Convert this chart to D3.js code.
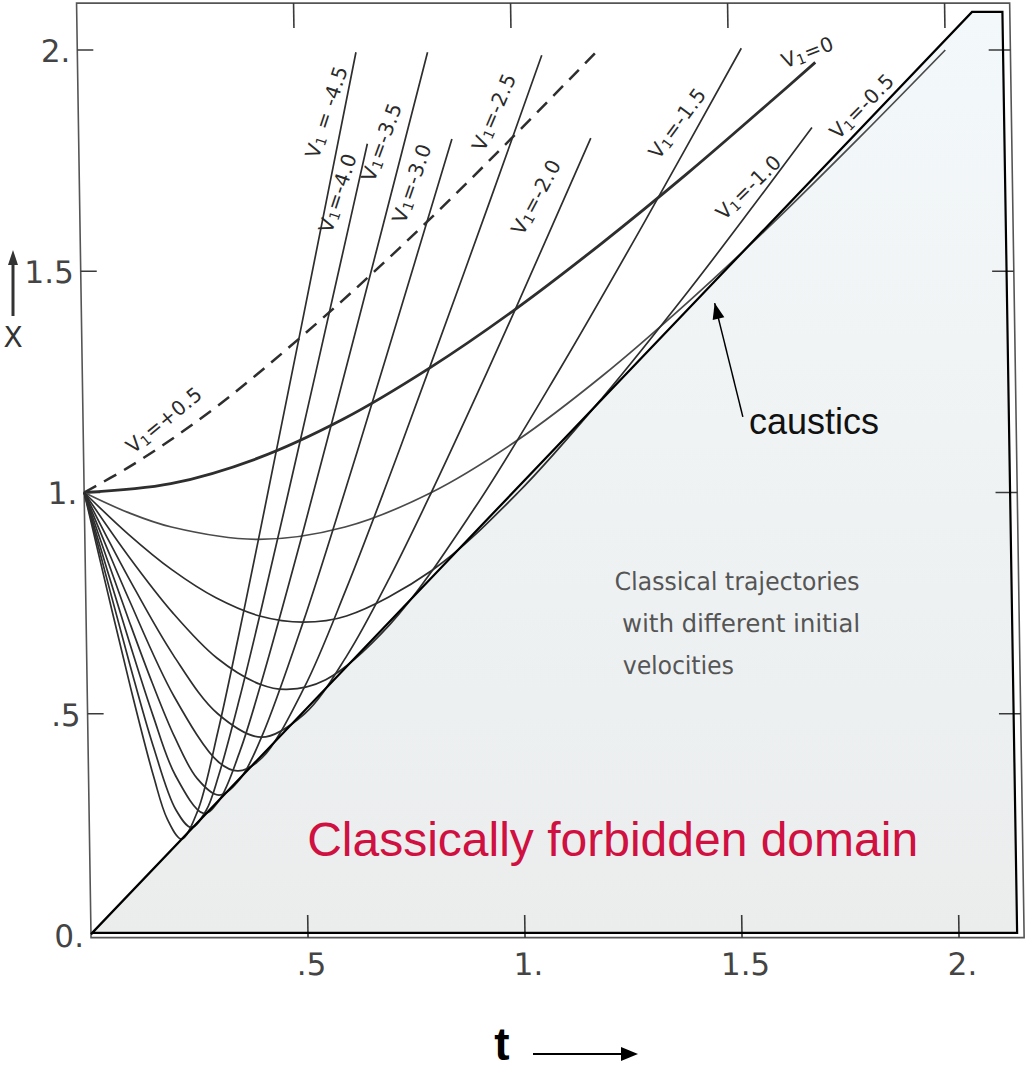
<!DOCTYPE html>
<html><head><meta charset="utf-8">
<script src="https://cdn.jsdelivr.net/npm/d3@7/dist/d3.min.js"></script>
<style>body{margin:0;background:#fff}svg{display:block}</style>
</head><body>
<svg id="c" width="1028" height="1070"></svg>
<script>
// ---------------- data ----------------
const velocityLabels = ["=+0.5", "=0", "=-0.5", "=-1.0", "=-1.5", "=-2.0", "=-2.5", "=-3.0", "=-3.5", "=-4.0", " = -4.5"];
const trajVp05 = [[0,1],[0.1,1.055],[0.2,1.118],[0.3,1.188],[0.4,1.265],[0.6,1.432],[0.8,1.612],[1.0,1.803],[1.2,2.0]];
const trajV0   = [[0,1],[0.2,1.02],[0.4,1.077],[0.6,1.166],[0.8,1.281],[1.0,1.414],[1.2,1.562],[1.4,1.72],[1.6,1.887],[1.7,1.972]];
const trajVm05 = [[0,1],[0.1,0.955],[0.2,0.922],[0.4,0.894],[0.6,0.922],[0.8,1.0],[1.0,1.118],[1.2,1.265],[1.4,1.432],[1.6,1.612],[1.8,1.803],[2.0,2.0]];
const trajVm10 = [[0,1],[0.1,0.906],[0.2,0.825],[0.3,0.762],[0.4,0.721],[0.5,0.707],[0.6,0.721],[0.8,0.825],[1.0,1.0],[1.2,1.217],[1.4,1.456],[1.55,1.645],[1.69,1.825]];
const trajVm15 = [[0,1],[0.1,0.856],[0.2,0.728],[0.3,0.626],[0.4,0.566],[0.46,0.555],[0.55,0.577],[0.7,0.702],[0.9,0.966],[1.1,1.278],[1.3,1.61],[1.53,2.004]];
const trajVm20 = [[0,1],[0.05,0.901],[0.1,0.806],[0.2,0.632],[0.3,0.5],[0.4,0.447],[0.5,0.5],[0.6,0.632],[0.7,0.806],[0.8,1.0],[0.9,1.204],[1.0,1.414],[1.18,1.801]];
const trajVm25 = [[0,1],[0.05,0.876],[0.1,0.757],[0.2,0.539],[0.3,0.391],[0.345,0.371],[0.4,0.4],[0.5,0.559],[0.6,0.781],[0.7,1.026],[0.8,1.281],[0.95,1.671],[1.07,1.988]];
const trajVm30 = [[0,1],[0.05,0.851],[0.1,0.707],[0.15,0.57],[0.2,0.447],[0.25,0.354],[0.3,0.316],[0.35,0.354],[0.4,0.447],[0.5,0.707],[0.6,1.0],[0.7,1.304],[0.86,1.799]];
const trajVm35 = [[0,1],[0.05,0.826],[0.1,0.658],[0.15,0.498],[0.2,0.361],[0.264,0.275],[0.3,0.304],[0.35,0.416],[0.4,0.566],[0.5,0.901],[0.6,1.253],[0.7,1.61],[0.807,1.995]];
const trajVm40 = [[0,1],[0.05,0.802],[0.1,0.608],[0.15,0.427],[0.2,0.283],[0.235,0.243],[0.27,0.282],[0.3,0.361],[0.35,0.532],[0.4,0.721],[0.5,1.118],[0.6,1.523],[0.665,1.788]];
const trajVm45 = [[0,1],[0.05,0.777],[0.1,0.559],[0.15,0.358],[0.18,0.262],[0.212,0.217],[0.25,0.28],[0.3,0.461],[0.35,0.673],[0.4,0.894],[0.5,1.346],[0.642,1.995]];
const trajectories = [trajVp05, trajV0, trajVm05, trajVm10, trajVm15, trajVm20, trajVm25, trajVm30, trajVm35, trajVm40, trajVm45];

const tTickValues = [0.5, 1, 1.5, 2];
const tTickLabels = [".5", "1.", "1.5", "2."];
const xTickValues = [0, 0.5, 1, 1.5, 2];
const xTickLabels = ["0.", ".5", "1.", "1.5", "2."];
const forbiddenOutline = [[0,0.002],[2.063,2.086],[2.133,2.086],[2.134,0.005],[0.005,0.005]];
const captionLines = ["Classical  trajectories", "with  different  initial", "velocities"];

// ---------------- layout ----------------
const labelLayout = [
  {t:0.187,x:1.164,rot:-39},{t:1.683,x:1.995,rot:-21},{t:1.806,x:1.873,rot:-45},{t:1.542,x:1.690,rot:-44},
  {t:1.380,x:1.835,rot:-53},{t:1.052,x:1.668,rot:-61},{t:0.958,x:1.860,rot:-66},{t:0.766,x:1.699,rot:-70},
  {t:0.698,x:1.792,rot:-69},{t:0.595,x:1.677,rot:-71},{t:0.572,x:1.860,rot:-71}
];
const frameT = [0, 2.15], frameX = [-0.006, 2.106];

const svg = d3.select("#c");
const tScale = d3.scaleLinear().domain([0, 2]).range([91, 959]);
const xScale = d3.scaleLinear().domain([0, 2]).range([935, 50]);
const shear = 0.0155;

const defs = svg.append("defs");
const grad = defs.append("linearGradient").attr("id","fz").attr("gradientUnits","userSpaceOnUse")
  .attr("x1",0).attr("y1",12).attr("x2",0).attr("y2",935);
grad.append("stop").attr("offset",0).attr("stop-color","#f3f8fa");
grad.append("stop").attr("offset",1).attr("stop-color","#ebeded");

// scanned figure group (slightly sheared like the scan)
const g = svg.append("g")
  .attr("transform", `translate(${-shear*935},0) skewX(${Math.atan(shear)*180/Math.PI})`);

const lin = d3.line().x(d => tScale(d[0])).y(d => xScale(d[1]));
const smooth = d3.line().x(d => tScale(d[0])).y(d => xScale(d[1])).curve(d3.curveCatmullRom.alpha(0.5));

g.append("path").datum(forbiddenOutline).attr("d", lin.curve(d3.curveLinearClosed))
  .attr("fill","url(#fz)").attr("stroke","none");
lin.curve(d3.curveLinear);

const scanInk = "#3a3a3a";
// frame
g.append("path").datum([[frameT[0],frameX[0]],[frameT[0],frameX[1]],[frameT[1],frameX[1]],[frameT[1],frameX[0]]])
  .attr("d", d3.line().x(d=>tScale(d[0])).y(d=>xScale(d[1])).curve(d3.curveLinearClosed))
  .attr("fill","none").attr("stroke","#555").attr("stroke-width",1.6);

// ticks
tTickValues.forEach(v => {
  g.append("line").attr("x1",tScale(v)).attr("x2",tScale(v)).attr("y1",xScale(frameX[0])).attr("y2",xScale(0.045))
    .attr("stroke",scanInk).attr("stroke-width",1.6);
  g.append("line").attr("x1",tScale(v)).attr("x2",tScale(v)).attr("y1",xScale(frameX[1])).attr("y2",xScale(2.05))
    .attr("stroke",scanInk).attr("stroke-width",1.6);
});
xTickValues.filter(v => v > 0).forEach(v => {
  g.append("line").attr("x1",tScale(0)).attr("x2",tScale(0.037)).attr("y1",xScale(v)).attr("y2",xScale(v))
    .attr("stroke",scanInk).attr("stroke-width",1.6);
  g.append("line").attr("x1",tScale(frameT[1])).attr("x2",tScale(frameT[1]-0.05)).attr("y1",xScale(v)).attr("y2",xScale(v))
    .attr("stroke",scanInk).attr("stroke-width",1.6);
});

const scanFont = "'DejaVu Sans', sans-serif";
tTickValues.forEach((v,i) => {
  g.append("text").attr("x",tScale(v)+3).attr("y",xScale(0)+40).attr("text-anchor","middle")
    .attr("font-family",scanFont).attr("font-size",31).attr("fill","#444").text(tTickLabels[i]);
});
xTickValues.forEach((v,i) => {
  g.append("text").attr("x",tScale(0)-7).attr("y",xScale(v)+12).attr("text-anchor","end")
    .attr("font-family",scanFont).attr("font-size",31).attr("fill","#444").text(xTickLabels[i]);
});

// trajectories
trajectories.forEach((pts,i) => {
  const p = g.append("path").datum(pts).attr("d", smooth).attr("fill","none")
    .attr("stroke", i === 2 ? "#4a4a4a" : "#2e2e2e")
    .attr("stroke-width", i === 1 ? 2.8 : (i === 0 ? 2.5 : 1.7))
    .attr("stroke-linejoin","round");
  if (i === 0) p.attr("stroke-dasharray","14,9");
});

// curve labels
labelLayout.forEach((L,i) => {
  const tx = g.append("text")
    .attr("transform", `translate(${tScale(L.t)},${xScale(L.x)}) rotate(${L.rot})`)
    .attr("text-anchor","middle").attr("dominant-baseline","central")
    .attr("font-family",scanFont).attr("font-size",20).attr("letter-spacing",0.6).attr("fill","#2a2a2a");
  tx.append("tspan").text("V");
  tx.append("tspan").attr("font-size",14).attr("dy",4).text("1");
  tx.append("tspan").attr("dy",-4).text(velocityLabels[i]);
});

// caption
captionLines.forEach((s,i) => {
  g.append("text").attr("x", tScale(1.219) + (i ? 7 : 0)).attr("y", xScale(0.780) + i*42)
    .attr("font-family",scanFont).attr("font-size",25).attr("fill","#555")
    .attr("textLength", [245,238,111][i]).attr("lengthAdjust","spacingAndGlyphs").text(s);
});

// overlay outline
g.append("path").datum(forbiddenOutline).attr("d", lin.curve(d3.curveLinearClosed))
  .attr("fill","none").attr("stroke","#000").attr("stroke-width",2.2).attr("stroke-linejoin","miter");

// ---------------- overlay annotations (unsheared) ----------------
svg.append("text").attr("x",tScale(0.498)).attr("y",xScale(0.178))
  .attr("font-family","'Liberation Sans', Arial, sans-serif").attr("font-size",48).attr("fill","#cf1040")
  .text("Classically forbidden domain");

const causticsArrow = [[1.502,1.171],[1.437,1.428]];
svg.append("line").attr("x1",tScale(causticsArrow[0][0])).attr("y1",xScale(causticsArrow[0][1]))
  .attr("x2",tScale(causticsArrow[1][0])).attr("y2",xScale(causticsArrow[1][1]))
  .attr("stroke","#000").attr("stroke-width",1.5);
svg.append("path").attr("d", (() => {
  const x2 = tScale(causticsArrow[1][0]), y2 = xScale(causticsArrow[1][1]);
  const x1 = tScale(causticsArrow[0][0]), y1 = xScale(causticsArrow[0][1]);
  const a = Math.atan2(y2-y1, x2-x1), L = 16, w = 6;
  const bx = x2 - L*Math.cos(a), by = y2 - L*Math.sin(a);
  return `M${x2},${y2} L${bx - w*Math.sin(a)},${by + w*Math.cos(a)} L${bx + w*Math.sin(a)},${by - w*Math.cos(a)} Z`;
})()).attr("fill","#000");
svg.append("text").attr("x",tScale(1.516)).attr("y",xScale(1.132))
  .attr("font-family","'Liberation Sans', Arial, sans-serif").attr("font-size",36).attr("fill","#111").text("caustics");

// t axis title with arrow
svg.append("text").attr("x",502).attr("y",1060).attr("text-anchor","middle")
  .attr("font-family","'Liberation Sans', Arial, sans-serif").attr("font-weight","bold").attr("font-size",46)
  .attr("fill","#000").text("t");
svg.append("line").attr("x1",533).attr("x2",625).attr("y1",1054).attr("y2",1054).attr("stroke","#000").attr("stroke-width",2);
svg.append("path").attr("d","M638,1054 L621,1047 L621,1061 Z").attr("fill","#000");

// x axis title with arrow (scan)
svg.append("line").attr("x1",13).attr("x2",13).attr("y1",316).attr("y2",262).attr("stroke","#333").attr("stroke-width",3);
svg.append("path").attr("d","M13,250 L8,265 L18,265 Z").attr("fill","#333");
svg.append("text").attr("x",13).attr("y",347).attr("text-anchor","middle")
  .attr("font-family",scanFont).attr("font-size",28).attr("fill","#333").text("X");
</script>
</body></html>
